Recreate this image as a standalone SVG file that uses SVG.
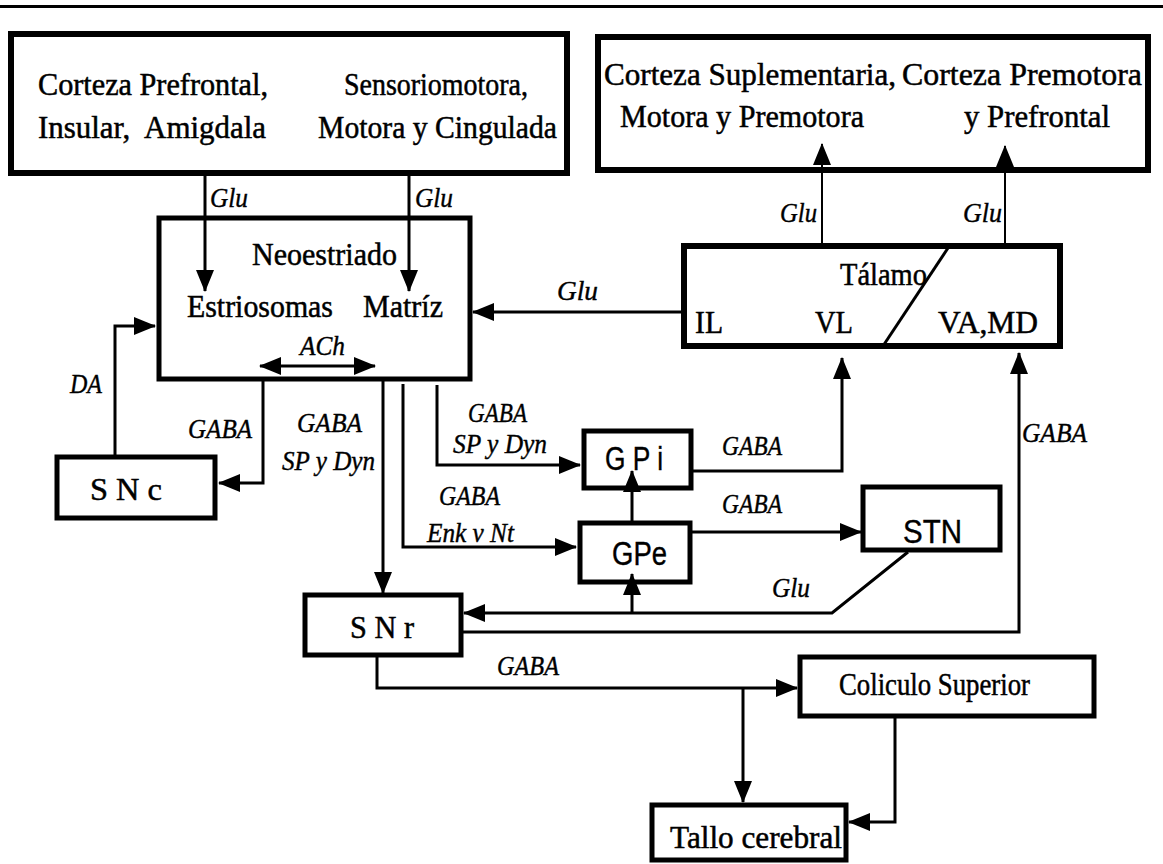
<svg xmlns="http://www.w3.org/2000/svg" width="1163" height="864" viewBox="0 0 1163 864">
<style>
.box{fill:none;stroke:#000;stroke-width:5}
.bb{fill:none;stroke:#000;stroke-width:6}
.c{fill:none;stroke:#000;stroke-width:3}
.cn{fill:none;stroke:#000;stroke-width:2}
.a{marker-end:url(#ah)}
.t{font-family:"Liberation Serif","Times New Roman",serif;font-size:31px;fill:#000;stroke:#000;stroke-width:0.5}
.l{font-family:"Liberation Serif","Times New Roman",serif;font-size:27px;font-style:italic;fill:#000;stroke:#000;stroke-width:0.4}
.s{font-family:"Liberation Sans",Arial,sans-serif;font-size:34px;fill:#000;stroke:#000;stroke-width:0.4}
</style>
<defs>
<marker id="ah" markerUnits="userSpaceOnUse" markerWidth="24" markerHeight="20" refX="21" refY="10" orient="auto-start-reverse" viewBox="0 0 24 20">
<path d="M0,1 L22,10 L0,19 Z" fill="#000"/>
</marker>
</defs>
<rect width="1163" height="864" fill="#fff"/>
<line x1="0" y1="6.5" x2="1163" y2="6.5" stroke="#000" stroke-width="3"/>

<g id="corteza-izq">
<rect class="bb" x="11" y="34" width="556" height="139"/>
<text class="t" x="38" y="95" textLength="230" lengthAdjust="spacingAndGlyphs">Corteza Prefrontal,</text>
<text class="t" x="38" y="138" textLength="228" lengthAdjust="spacingAndGlyphs">Insular,&#160; Amigdala</text>
<text class="t" x="344" y="95" textLength="184" lengthAdjust="spacingAndGlyphs">Sensoriomotora,</text>
<text class="t" x="318" y="138" textLength="239" lengthAdjust="spacingAndGlyphs">Motora y Cingulada</text>
</g>

<g id="corteza-der">
<rect class="bb" x="598" y="37" width="550" height="133"/>
<text class="t" x="604" y="85" textLength="292" lengthAdjust="spacingAndGlyphs">Corteza Suplementaria,</text>
<text class="t" x="902" y="85" textLength="240" lengthAdjust="spacingAndGlyphs">Corteza Premotora</text>
<text class="t" x="620" y="127" textLength="244" lengthAdjust="spacingAndGlyphs">Motora y Premotora</text>
<text class="t" x="964" y="127" textLength="146" lengthAdjust="spacingAndGlyphs">y Prefrontal</text>
</g>

<g id="neoestriado">
<rect class="box" x="159" y="218" width="311" height="161"/>
<text class="t" x="252" y="265" textLength="145" lengthAdjust="spacingAndGlyphs">Neoestriado</text>
<text class="t" x="187" y="317" textLength="146" lengthAdjust="spacingAndGlyphs">Estriosomas</text>
<text class="t" x="363" y="317" textLength="80" lengthAdjust="spacingAndGlyphs">Matríz</text>
</g>

<g id="talamo">
<rect class="bb" x="684" y="246" width="376" height="100"/>
<line class="c" x1="948" y1="248" x2="883" y2="346"/>
<text class="t" x="840" y="285" textLength="87" lengthAdjust="spacingAndGlyphs">Tálamo</text>
<text class="t" x="695" y="333" textLength="28" lengthAdjust="spacingAndGlyphs">IL</text>
<text class="t" x="815" y="333" textLength="38" lengthAdjust="spacingAndGlyphs">VL</text>
<text class="t" x="938" y="333" textLength="100" lengthAdjust="spacingAndGlyphs">VA,MD</text>
</g>

<g id="snc">
<rect class="box" x="57" y="457" width="158" height="61"/>
<text class="t" x="90" y="500" font-size="37" textLength="72" lengthAdjust="spacingAndGlyphs">S N c</text>
</g>

<g id="snr">
<rect class="box" x="305" y="595" width="156" height="60"/>
<text class="t" x="350" y="638" font-size="37" textLength="64" lengthAdjust="spacingAndGlyphs">S N r</text>
</g>

<g id="gpi">
<rect class="box" x="584" y="431" width="107" height="57"/>
<text class="s" x="605" y="470" textLength="58" lengthAdjust="spacingAndGlyphs">G P i</text>
</g>

<g id="gpe">
<rect class="box" x="580" y="523" width="110" height="59"/>
<text class="s" x="612" y="565" textLength="55" lengthAdjust="spacingAndGlyphs">GPe</text>
</g>

<g id="stn">
<rect class="box" x="863" y="487" width="137" height="63"/>
<text class="s" x="903" y="543" font-size="38" textLength="59" lengthAdjust="spacingAndGlyphs">STN</text>
</g>

<g id="coliculo">
<rect class="box" x="800" y="657" width="294" height="59"/>
<text class="t" x="839" y="695" font-size="28" textLength="191" lengthAdjust="spacingAndGlyphs">Coliculo Superior</text>
</g>

<g id="tallo">
<rect class="box" x="652" y="805" width="194" height="55"/>
<text class="t" x="670" y="848" font-size="32" textLength="172" lengthAdjust="spacingAndGlyphs">Tallo cerebral</text>
</g>

<g id="connectors">
<path class="c a" d="M205,176 V291"/>
<path class="c a" d="M409,176 V291"/>
<path class="c a" d="M684,312 H473"/>
<path class="cn a" d="M822,246 V144"/>
<path class="cn a" d="M1005,246 V146"/>
<path class="c" d="M260,366 H375" marker-start="url(#ah)" marker-end="url(#ah)"/>
<path class="c a" d="M115,457 V326 H155"/>
<path class="c a" d="M263,380 V483 H219"/>
<path class="c a" d="M383,381 V593"/>
<path class="c a" d="M403,384 V547 H576"/>
<path class="c a" d="M437,385 V465 H580"/>
<path class="c a" d="M691,471 H842 V358"/>
<path class="c a" d="M632,523 V471"/>
<path class="c a" d="M690,532 H861"/>
<path class="c a" d="M908,552 L832,613 H464"/>
<path class="c a" d="M632,613 V574"/>
<path class="c a" d="M461,632 H1019 V353"/>
<path class="c a" d="M377,655 V688 H797"/>
<path class="c a" d="M743,688 V802"/>
<path class="c a" d="M895,716 V822 H849"/>
</g>

<g id="labels">
<text class="l" x="210" y="207" textLength="38" lengthAdjust="spacingAndGlyphs">Glu</text>
<text class="l" x="415" y="207" textLength="38" lengthAdjust="spacingAndGlyphs">Glu</text>
<text class="l" x="557" y="300" textLength="41" lengthAdjust="spacingAndGlyphs">Glu</text>
<text class="l" x="780" y="222" textLength="37" lengthAdjust="spacingAndGlyphs">Glu</text>
<text class="l" x="963" y="222" textLength="39" lengthAdjust="spacingAndGlyphs">Glu</text>
<text class="l" x="300" y="355" textLength="45" lengthAdjust="spacingAndGlyphs">ACh</text>
<text class="l" x="70" y="393" textLength="32" lengthAdjust="spacingAndGlyphs">DA</text>
<text class="l" x="188" y="438" textLength="64" lengthAdjust="spacingAndGlyphs">GABA</text>
<text class="l" x="297" y="432" textLength="65" lengthAdjust="spacingAndGlyphs">GABA</text>
<text class="l" x="282" y="470" textLength="93" lengthAdjust="spacingAndGlyphs">SP y Dyn</text>
<text class="l" x="468" y="422" textLength="59" lengthAdjust="spacingAndGlyphs">GABA</text>
<text class="l" x="453" y="453" textLength="94" lengthAdjust="spacingAndGlyphs">SP y Dyn</text>
<text class="l" x="439" y="505" textLength="61" lengthAdjust="spacingAndGlyphs">GABA</text>
<text class="l" x="427" y="542" textLength="87" lengthAdjust="spacingAndGlyphs">Enk v Nt</text>
<text class="l" x="722" y="455" textLength="60" lengthAdjust="spacingAndGlyphs">GABA</text>
<text class="l" x="722" y="513" textLength="60" lengthAdjust="spacingAndGlyphs">GABA</text>
<text class="l" x="1022" y="442" textLength="65" lengthAdjust="spacingAndGlyphs">GABA</text>
<text class="l" x="772" y="597" textLength="38" lengthAdjust="spacingAndGlyphs">Glu</text>
<text class="l" x="497" y="675" textLength="62" lengthAdjust="spacingAndGlyphs">GABA</text>
</g>
</svg>
